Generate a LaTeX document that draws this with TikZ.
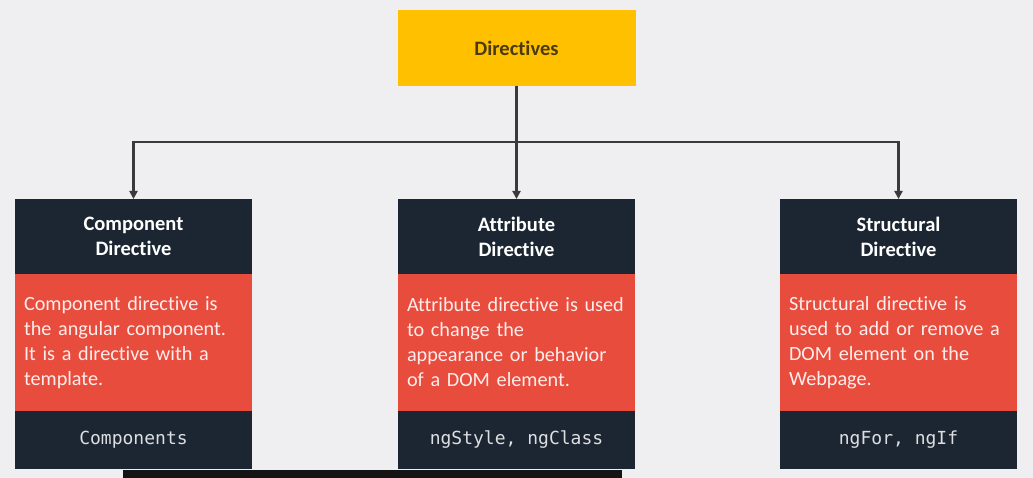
\documentclass[tikz,border=0pt]{standalone}
\usepackage{fontspec}
\setmainfont[Ligatures=NoCommon]{Carlito}
\setmonofont{DejaVu Sans Mono}
\usepackage{xcolor}
\usetikzlibrary{arrows.meta,positioning}
\definecolor{bgx}{HTML}{EFEFF1}
\definecolor{goldx}{HTML}{FFC000}
\definecolor{navyx}{HTML}{1B2632}
\definecolor{redx}{HTML}{E84C3D}
\definecolor{linex}{HTML}{3A3A3C}
\definecolor{titlex}{HTML}{4A3B12}
\tikzset{
  ar/.style={-{Triangle[length=8pt,width=8pt]},line width=2.4pt,linex},
  top/.style={fill=goldx,text=titlex,font=\fontsize{20.5}{24}\selectfont\bfseries,minimum width=238pt,minimum height=76pt,inner sep=0pt,outer sep=0pt},
  head/.style={fill=navyx,text=white,font=\fontsize{20.5}{25}\selectfont\bfseries,align=center,minimum width=237pt,minimum height=75pt,inner sep=0pt,outer sep=0pt},
  body/.style={fill=redx,text=white!90!redx,font=\fontsize{20.2}{25}\selectfont,align=left,text width=219pt,minimum height=137pt,inner xsep=9pt,inner ysep=0pt,outer sep=0pt},
  foot/.style={fill=navyx,text=white!85!navyx,font=\fontsize{18}{22}\selectfont\ttfamily,minimum width=237pt,minimum height=58pt,inner sep=0pt,outer sep=0pt}
}
\begin{document}
\begin{tikzpicture}[x=1pt,y=-1pt]
\fill[bgx] (0,0) rectangle (1033,478);
\useasboundingbox (0,0) rectangle (1033,478);
\node[top] (dir) at (516.5,48) {Directives};
% three columns
\node[head] (comph) at (133.5,236.5) {Component\\Directive};
\node[body,below=0pt of comph] (compb) {Component directive is\\the angular component.\\It is a directive with a\\template.};
\node[foot,below=0pt of compb] (compf) {Components};
\node[head] (attrh) at (516.5,236.5) {Attribute\\Directive};
\node[body,below=0pt of attrh] (attrb) {Attribute directive is used\\to change the\\appearance or behavior\\of a DOM element.};
\node[foot,below=0pt of attrb] (attrf) {ngStyle, ngClass};
\node[head] (struh) at (898.5,236.5) {Structural\\Directive};
\node[body,below=0pt of struh] (strub) {Structural directive is\\used to add or remove a\\DOM element on the\\Webpage.};
\node[foot,below=0pt of strub] (struf) {ngFor, ngIf};
% connectors
\coordinate (split) at (dir.south |- 0,142);
\draw[ar] (dir.south) -- (attrh.north);
\draw[ar] (split) -| (comph.north);
\draw[ar] (split) -| (struh.north);
\fill[black!92] (123,470) rectangle (622,478);
\end{tikzpicture}
\end{document}
